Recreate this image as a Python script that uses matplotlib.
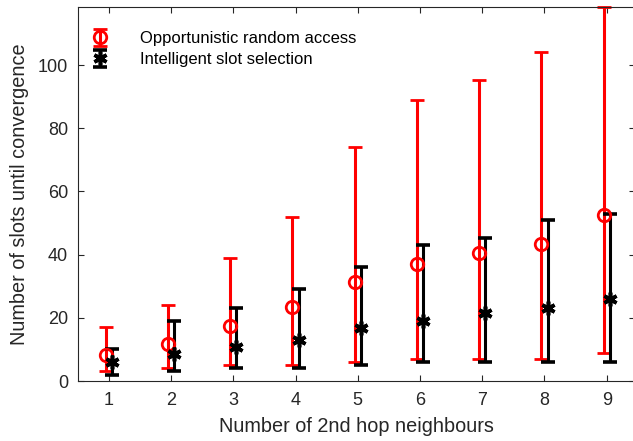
import matplotlib.pyplot as plt
import numpy as np

plt.rcParams['font.family'] = ['Liberation Sans', 'DejaVu Sans']

# number of 2nd hop neighbours
hops = np.arange(1, 10)

# Opportunistic random access: mean, min, max
ora_mean = [8.2, 11.6, 17.5, 23.5, 31.2, 37.2, 40.6, 43.4, 52.5]
ora_low = [3.2, 4.0, 5.0, 5.0, 6.0, 7.0, 7.0, 7.0, 9.0]
ora_high = [17.2, 24.0, 39.0, 52.0, 74.0, 89.0, 95.3, 104.0, 118.3]

# Intelligent slot selection: mean, min, max
iss_mean = [6.1, 8.5, 10.9, 13.0, 16.7, 19.1, 21.4, 23.0, 25.9]
iss_low = [1.9, 3.2, 4.0, 4.0, 5.0, 6.0, 6.0, 6.0, 6.0]
iss_high = [10.0, 19.0, 23.0, 29.0, 36.0, 43.0, 45.2, 51.0, 53.0]

fig = plt.figure(figsize=(6.33, 4.41), dpi=100)
ax = fig.add_axes([0.1227, 0.136, 0.88, 0.8474])

ora_mean = np.array(ora_mean)
iss_mean = np.array(iss_mean)
ora_err = [ora_mean - np.array(ora_low), np.array(ora_high) - ora_mean]
iss_err = [iss_mean - np.array(iss_low), np.array(iss_high) - iss_mean]

ax.errorbar(hops - 0.05, ora_mean, yerr=ora_err, linestyle='none', marker='o',
            color='#ff0000', mfc='none', ms=9, mew=2, elinewidth=2.2,
            capsize=5, capthick=2.2, label='Opportunistic random access',
            clip_on=False)
ax.errorbar(hops + 0.05, iss_mean, yerr=iss_err, linestyle='none',
            marker=(6, 2, 0), color='black', ms=10, mew=2.6, elinewidth=2.2,
            capsize=5, capthick=2.2, label='Intelligent slot selection',
            clip_on=False)

ax.set_xlim(0.5, 9.45)
ax.set_ylim(0, 118.3)
ax.set_xticks(hops)
ax.set_yticks([0, 20, 40, 60, 80, 100])
ax.tick_params(direction='in', length=4, top=True, right=True,
               labelsize=13, colors='#262626')
ax.tick_params(axis='x', pad=8)
ax.tick_params(axis='y', pad=7)
for s in ax.spines.values():
    s.set_color('#262626')
    s.set_linewidth(0.8)

ax.set_xlabel('Number of 2nd hop neighbours', fontsize=14.3, color='#262626',
              labelpad=6)
ax.set_ylabel('Number of slots until convergence', fontsize=14.3,
              color='#262626', labelpad=6)

ax.legend(loc='upper left', bbox_to_anchor=(0.01, 0.954), frameon=False,
          fontsize=12, handlelength=1.2, handletextpad=1.8, labelspacing=0.36,
          borderaxespad=0)

fig.savefig('out.png', dpi=100)
